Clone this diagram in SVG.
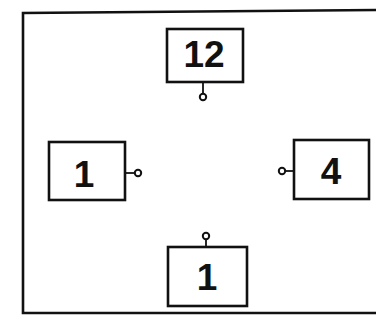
<svg xmlns="http://www.w3.org/2000/svg" width="376" height="324" viewBox="0 0 376 324">
<style>
.box{fill:#fff;stroke:#111;stroke-width:2.6}
.lbl{font-family:"Liberation Sans",Arial,sans-serif;font-weight:bold;font-size:37px;fill:#111;text-anchor:middle}
.stem{stroke:#111;stroke-width:1.8;fill:none}
.pin{fill:#fff;stroke:#111;stroke-width:2}
</style>
<rect width="376" height="324" fill="#fff"/>
<path d="M380,10 L23,13 L23,313 L380,313" fill="none" stroke="#111" stroke-width="2.6"/>
<g id="node-top">
<rect class="box" x="167" y="29" width="76" height="53"/>
<text class="lbl" x="204" y="67">12</text>
</g>
<g id="node-left">
<rect class="box" x="49" y="142" width="76" height="58"/>
<text class="lbl" x="84" y="187">1</text>
</g>
<g id="node-right">
<rect class="box" x="294" y="140" width="75" height="59"/>
<text class="lbl" x="331" y="184">4</text>
</g>
<g id="node-bottom">
<rect class="box" x="168" y="247" width="79" height="59"/>
<text class="lbl" x="207" y="290">1</text>
</g>
<g id="connectors">
<line class="stem" x1="203" y1="82" x2="203" y2="94"/>
<circle class="pin" cx="203" cy="97" r="3.2"/>
<line class="stem" x1="125" y1="173" x2="135" y2="173"/>
<circle class="pin" cx="138" cy="173" r="3.2"/>
<line class="stem" x1="294" y1="171" x2="285" y2="171"/>
<circle class="pin" cx="282" cy="171" r="3.2"/>
<line class="stem" x1="206" y1="247" x2="206" y2="239"/>
<circle class="pin" cx="206" cy="236" r="3.2"/>
</g>
</svg>
